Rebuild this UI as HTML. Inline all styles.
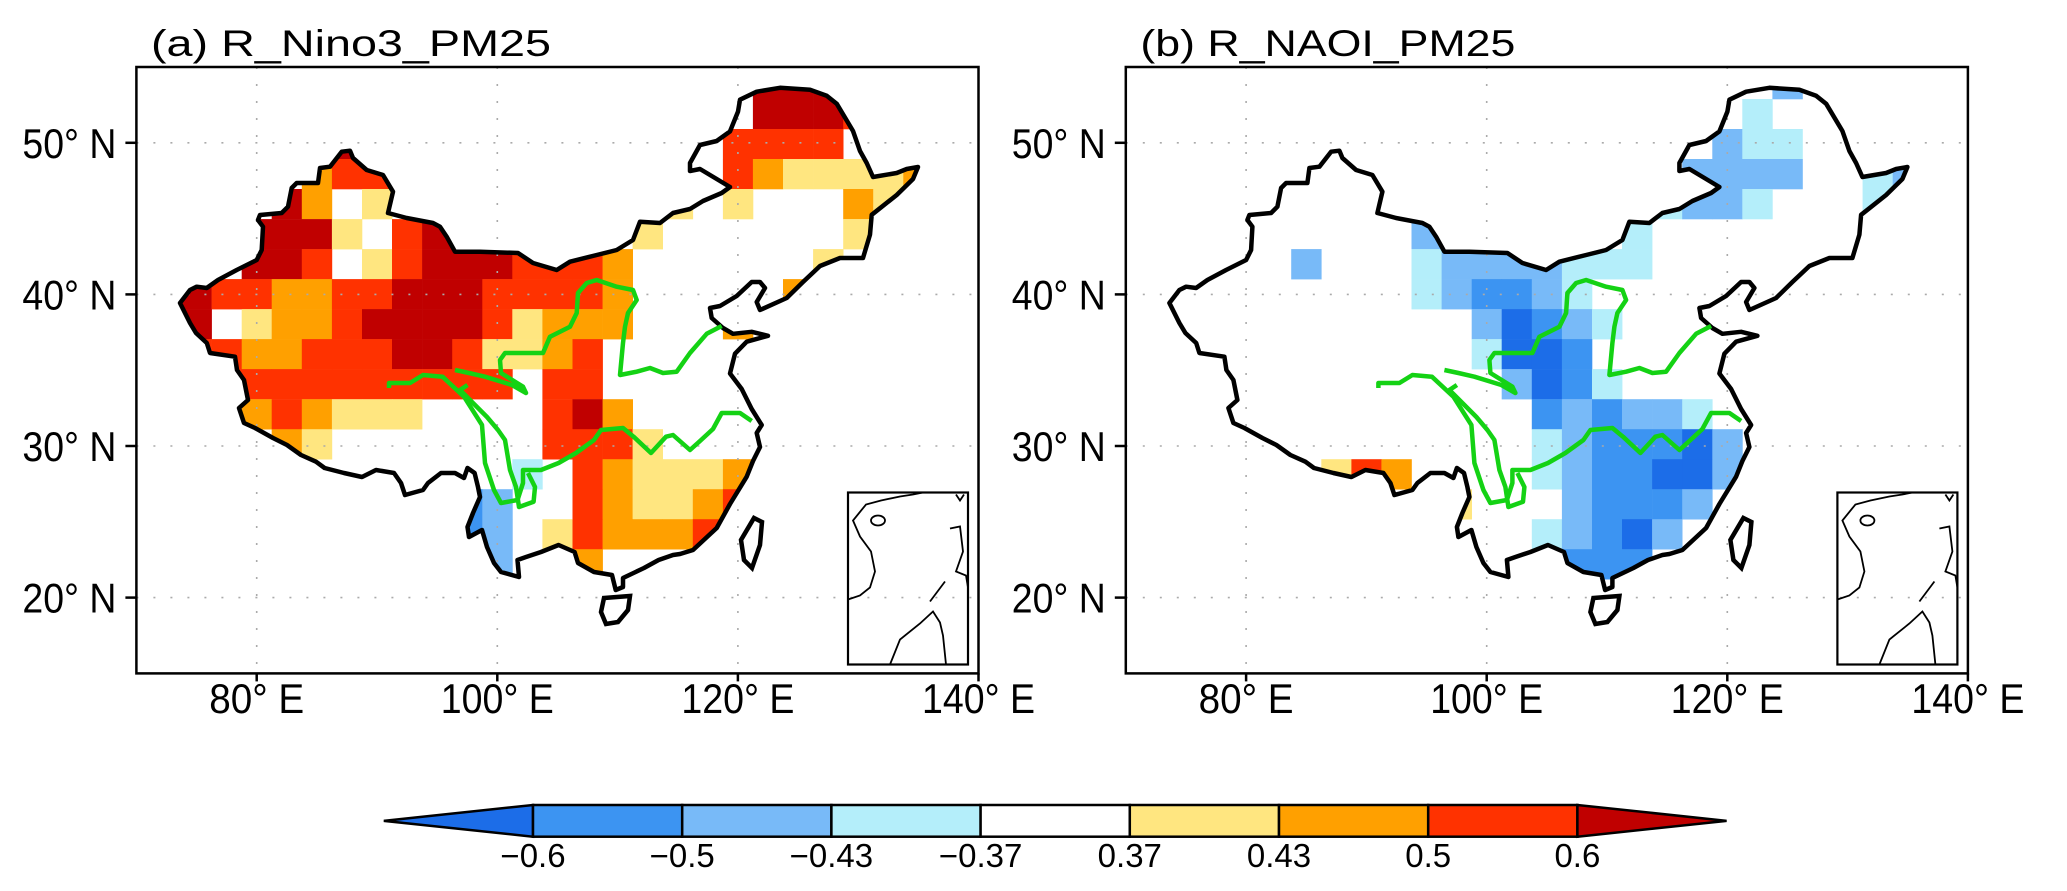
<!DOCTYPE html>
<html><head><meta charset="utf-8"><style>
html,body{margin:0;padding:0;background:#fff;}
svg{display:block;font-family:"Liberation Sans",sans-serif;}
</style></head><body>
<svg id="fig" width="2067" height="891" viewBox="0 0 2067 891" xmlns="http://www.w3.org/2000/svg"></svg>
<script>
// ---- data ----
const levelBounds = ["-0.6","-0.5","-0.43","-0.37","0.37","0.43","0.5","0.6"];
const levelColors = {"-4":"#1c6de8","-3":"#3c94f2","-2":"#78baf8","-1":"#b4eefa","0":"#ffffff","1":"#ffe680","2":"#ffa000","3":"#ff3200","4":"#c00000"};
const barColors = ["#1c6de8","#3c94f2","#78baf8","#b4eefa","#ffffff","#ffe680","#ffa000","#ff3200","#c00000"];
const lonTicks = [80,100,120,140];
const latTicks = [20,30,40,50];
// cells: [row, col, level]; col lon west = 68.75+2.5*col, row lat top = 54.87-1.98*row
const cellsA = [
[0,21,4],[0,22,4],[0,23,4],
[1,21,4],[1,22,4],[1,23,4],[1,24,3],
[2,7,4],[2,20,3],[2,21,3],[2,22,3],[2,23,3],[2,25,2],
[3,6,2],[3,7,3],[3,8,3],[3,20,3],[3,21,2],[3,22,1],[3,23,1],[3,24,1],[3,25,1],[3,26,2],[3,27,1],
[4,5,4],[4,6,2],[4,8,1],[4,18,1],[4,20,1],[4,24,2],[4,25,1],
[5,4,4],[5,5,4],[5,6,4],[5,7,1],[5,9,3],[5,10,4],[5,11,4],[5,17,1],[5,24,1],
[6,4,4],[6,5,4],[6,6,3],[6,8,1],[6,9,3],[6,10,4],[6,11,4],[6,12,4],[6,13,3],[6,14,3],[6,15,3],[6,16,2],[6,23,1],
[7,2,4],[7,3,3],[7,4,3],[7,5,2],[7,6,2],[7,7,3],[7,8,3],[7,9,4],[7,10,4],[7,11,4],[7,12,3],[7,13,3],[7,14,3],[7,15,3],[7,16,2],[7,22,2],
[8,2,4],[8,4,1],[8,5,2],[8,6,2],[8,7,3],[8,8,4],[8,9,4],[8,10,4],[8,11,4],[8,12,3],[8,13,1],[8,14,2],[8,15,2],[8,16,2],[8,20,2],
[9,2,3],[9,3,3],[9,4,2],[9,5,2],[9,6,3],[9,7,3],[9,8,3],[9,9,4],[9,10,4],[9,11,3],[9,12,1],[9,13,1],[9,14,2],[9,15,3],
[10,3,3],[10,4,3],[10,5,3],[10,6,3],[10,7,3],[10,8,3],[10,9,3],[10,10,3],[10,11,3],[10,12,3],[10,14,3],[10,15,3],
[11,4,2],[11,5,3],[11,6,2],[11,7,1],[11,8,1],[11,9,1],[11,14,3],[11,15,4],[11,16,2],
[12,5,2],[12,6,1],[12,14,3],[12,15,3],[12,16,3],[12,17,1],
[13,13,-1],[13,15,3],[13,16,2],[13,17,1],[13,18,1],[13,19,1],[13,20,2],
[14,11,-3],[14,12,-2],[14,15,3],[14,16,2],[14,17,1],[14,18,1],[14,19,2],[14,20,3],
[15,11,-3],[15,12,-2],[15,14,1],[15,15,3],[15,16,2],[15,17,2],[15,18,2],[15,19,3],
[16,12,-2],[16,15,2]
];
const cellsB = [
[0,22,-2],[1,21,-1],
[2,20,-2],[2,21,-1],[2,22,-1],
[3,19,-2],[3,20,-2],[3,21,-2],[3,22,-2],[3,25,-1],[3,26,-2],
[4,18,-1],[4,19,-2],[4,20,-2],[4,21,-1],[4,25,-1],
[5,10,-2],[5,17,-1],
[6,6,-2],[6,10,-1],[6,11,-2],[6,12,-2],[6,13,-2],[6,14,-2],[6,15,-1],[6,16,-1],[6,17,-1],
[7,10,-1],[7,11,-2],[7,12,-3],[7,13,-3],[7,14,-2],[7,15,-1],
[8,12,-2],[8,13,-4],[8,14,-3],[8,15,-2],[8,16,-1],
[9,12,-1],[9,13,-4],[9,14,-4],[9,15,-3],
[10,13,-2],[10,14,-4],[10,15,-3],[10,16,-1],
[11,14,-3],[11,15,-2],[11,16,-3],[11,17,-2],[11,18,-2],[11,19,-1],
[12,14,-1],[12,15,-2],[12,16,-3],[12,17,-3],[12,18,-3],[12,19,-4],[12,20,-2],
[13,7,1],[13,8,3],[13,9,2],[13,14,-1],[13,15,-2],[13,16,-3],[13,17,-3],[13,18,-4],[13,19,-4],[13,20,-2],
[14,11,1],[14,15,-2],[14,16,-3],[14,17,-3],[14,18,-3],[14,19,-2],
[15,14,-1],[15,15,-2],[15,16,-3],[15,17,-4],[15,18,-2],
[16,15,-3],[16,16,-3],[16,17,-3]
];
// ---- geometry (pixel outlines relative to panel a) ----
const china = [[341.7,151.7],[350,150.7],[353,158],[366.7,170],[383,175],[393,191.7],[388,213],[406.7,218],[433,223],[440,226.7],[446.7,236.7],[455,251.7],[480,251.7],[518,253],[533,263],[556.7,270],[570,261.7],[596.7,255],[616.7,250],[633,240],[640,221.7],[660,223],[673,213],[690,209],[703,201],[721.7,193],[730,187],[716.7,179],[700,169],[690,171],[690,163],[700,145],[716.7,141],[730,131.4],[738,111.6],[740,99.7],[756.7,91.7],[780,87.8],[810,89.8],[826.7,95.7],[836.7,103.7],[853,131],[860,151],[866.7,163],[873,177],[896.7,173],[906.7,169],[918,167],[913,179],[896.7,195],[871.7,214.8],[870,234.6],[863,258],[840,258],[820,266],[803,282],[786.7,298],[760,310],[756.7,302],[765,288],[760,282],[751.7,282],[736.7,296],[720,306],[710,308],[711.7,318],[723,328],[733,333.8],[751.7,331.8],[768,335.8],[746.7,341.7],[735,353.7],[730,373.5],[741.7,389],[751.7,409],[761.7,425],[756.7,433],[760,447],[753,461],[746.7,476.7],[730,504],[716.7,528],[693,550],[680,554],[673,555],[658.6,560],[644,568],[623,578],[623,587],[615.7,590],[612,575],[594,572],[578,563],[574.6,552],[558.6,545],[541,552],[526,557],[517.5,560],[519,577],[501,572],[494,563],[487,547],[482,530],[469,537],[467.5,527],[473,513],[480,497],[478,487],[474.6,473],[467.5,468],[464,478],[455,473],[441,473],[428,483],[423,490],[405,495],[401,483],[394,473],[376,470],[362,477],[344,473],[324.6,468],[316,461.7],[301,455],[287,445],[273,438],[255,428],[244,423],[239,408],[248,400],[244,380],[237,370],[235,356.7],[210,353],[206.8,343],[196,333],[190,323],[185,313],[180,303],[190,290],[196.7,286.7],[206.7,288],[218,280],[236.7,270],[256.7,260],[261.7,250],[263,226.7],[258,220],[260,215],[281.7,213],[288,206.7],[291.7,188],[296.7,183],[318,183],[320,168],[330,166.7]];
const hainan = "M604,598 L630,596 L628,610 L618,622 L606,624 L601,612 Z";
const taiwan = "M754,518 L762,522 L760,545 L752,568 L744,560 L741,540 Z";
const yellowRiver = [[455,370],[469,373],[485,376.7],[512,385],[526,393],[523,386.7],[501,373],[500,360],[505,353],[519,353],[537,353],[543,353],[550,336.7],[570,326.7],[576.7,313],[578,293],[586.7,283],[596.7,280],[616.7,286.7],[633,290],[636.7,300],[628,313],[625,326.7],[623,343],[620,375],[636.7,371.7],[650,368],[663,373],[676.7,371.7],[690,353],[706.7,333.8],[721.7,326]];
const yangtze = [[389,388],[389,383],[410,383],[423,375],[442.5,376.7],[464,396.7],[482,425],[485,463],[494,490],[501,503],[517.5,500],[523,483],[523,470],[541,470],[558.6,463],[576,453],[594,440],[601,430],[623,428],[633.6,436.7],[651,453],[666,436.7],[673,435],[690,450],[700,441],[713,429],[721.7,413],[740,413],[751.7,421]];
const jinsha = [[467.5,385],[460,390],[473,403],[487,417],[498,430],[505,440],[510,470],[516,487],[519,507],[533.6,501.7],[535,487],[528,473]];

const NS="http://www.w3.org/2000/svg";
const svg=document.getElementById('fig');
function mk(tag,attrs,parent){const e=document.createElementNS(NS,tag);for(const k in attrs)e.setAttribute(k,attrs[k]);(parent||svg).appendChild(e);return e;}
const X0=136.4, PXLON=12.03, Y0=67, PXLAT=15.16;
function xs(lon,off){return off+X0+(lon-70)*PXLON;}
function ys(lat){return Y0+(55-lat)*PXLAT;}
function cellLon(c){return 68.75+2.5*c;}
function cellLat(r){return 54.87-1.98*r;}
function pts(a){return a.map(p=>p[0].toFixed(1)+','+p[1].toFixed(1)).join(' ');}

function panel(off,cells,title,key){
  const g=mk('g',{transform:'translate('+off+',0)'});
  
  
  const defs=mk('defs',{},g);
  const cp=mk('clipPath',{id:'clip-'+key},defs);
  mk('polygon',{points:pts(china)},cp);
  mk('path',{d:hainan},cp);
  const cg=mk('g',{'clip-path':'url(#clip-'+key+')'},g);
  
  
  cells.forEach(cl=>{
    const x=xs(cellLon(cl[1]),0), y=ys(cellLat(cl[0]));
    const w=xs(cellLon(cl[1])+2.5,0)-x, h=ys(cellLat(cl[0])-1.98)-y;
    const r=mk('rect',{x:x.toFixed(1),y:y.toFixed(1),width:(w+0.3).toFixed(1),height:(h+0.3).toFixed(1),fill:levelColors[String(cl[2])]},cg);
    
    
  });
  const gg=mk('g',{stroke:'#aaa','stroke-width':1.6,'stroke-dasharray':'2 15'},g);
  
  
  lonTicks.slice(0,3).forEach(l=>mk('line',{x1:xs(l,0),x2:xs(l,0),y1:Y0,y2:ys(15)},gg));
  latTicks.forEach(l=>mk('line',{x1:X0,x2:xs(140,0),y1:ys(l),y2:ys(l)},gg));
  const ol=mk('polygon',{points:pts(china),fill:'none',stroke:'#000','stroke-width':4.5,'stroke-linejoin':'round'},g);
  
  
  const hn=mk('path',{d:hainan,fill:'none',stroke:'#000','stroke-width':4.5},g);
  
  
  const tw=mk('path',{d:taiwan,fill:'none',stroke:'#000','stroke-width':4.5},g);
  
  
  [[yellowRiver,'yellow-river'],[yangtze,'yangtze-river'],[jinsha,'jinsha-river']].forEach(rv=>{
    const p=mk('polyline',{points:pts(rv[0]),fill:'none',stroke:'#14d214','stroke-width':4.5,'stroke-linejoin':'round'},g);
    
    
  });
  const ig=mk('g',{transform:'translate(848,492.5)',fill:'none',stroke:'#000','stroke-width':1.8},g);
  
  
  mk('rect',{x:0,y:0,width:120,height:172,'stroke-width':2.2},ig);
  mk('path',{d:'M0,107 L12,103 L22,95 L27,79 L23,59 L12,44 L5,28 L18,12 L33,8 L52,4 L65,2 L75,0'},ig);
  mk('ellipse',{cx:30,cy:28,rx:7,ry:5},ig);
  mk('path',{d:'M42,172 L52,147 L72,131 L85,119 L92,130 L95,143 L98,172'},ig);
  mk('path',{d:'M102,36 L112,34 L115,59 L108,79 L118,83 L120,95'},ig);
  mk('path',{d:'M82,109 L97,89'},ig);
  mk('path',{d:'M108,2 L112,8 L116,2'},ig);
  const fr=mk('rect',{x:X0,y:Y0,width:xs(140,0)-X0,height:ys(15)-Y0,fill:'none',stroke:'#000','stroke-width':2.5},g);
  
  
  latTicks.forEach(l=>{
    mk('line',{x1:X0-11,x2:X0,y1:ys(l),y2:ys(l),stroke:'#000','stroke-width':2.5},g);
    const t=mk('text',{x:X0-20,y:ys(l)+15,'font-size':42,'text-anchor':'end',textLength:94,lengthAdjust:'spacingAndGlyphs'},g);
    t.textContent=l+'° N';
    
    
  });
  lonTicks.forEach(l=>{
    mk('line',{x1:xs(l,0),x2:xs(l,0),y1:ys(15),y2:ys(15)+8,stroke:'#000','stroke-width':2.5},g);
    const t=mk('text',{x:xs(l,0),y:713,'font-size':42,'text-anchor':'middle',textLength:l>=100?113:95,lengthAdjust:'spacingAndGlyphs'},g);
    t.textContent=l+'° E';
    
    
  });
  const tt=mk('text',{x:151,y:56,'font-size':37,textLength:key==='a'?400:375,lengthAdjust:'spacingAndGlyphs'},g);
  tt.textContent=title;
  
  
}
panel(0,cellsA,'(a) R_Nino3_PM25','a');
panel(989.4,cellsB,'(b) R_NAOI_PM25','b');

// ---- colorbar ----
const cb=mk('g',{});


const CBX=533, CBW=149.2, CBY=805, CBH=31.7;
const nBox=levelBounds.length-1;
const lt=mk('polygon',{points:(CBX)+','+CBY+' '+CBX+','+(CBY+CBH)+' '+(CBX-CBW)+','+(CBY+CBH/2),fill:barColors[0],stroke:'#000','stroke-width':2.5},cb);


for(let i=0;i<nBox;i++){
  const r=mk('rect',{x:CBX+i*CBW,y:CBY,width:CBW,height:CBH,fill:barColors[i+1],stroke:'#000','stroke-width':2.5},cb);
  
  
}
const xe=CBX+nBox*CBW;
const rt=mk('polygon',{points:xe+','+CBY+' '+xe+','+(CBY+CBH)+' '+(xe+CBW)+','+(CBY+CBH/2),fill:barColors[8],stroke:'#000','stroke-width':2.5},cb);


levelBounds.forEach((b,i)=>{
  const t=mk('text',{x:CBX+i*CBW,y:867,'font-size':33,'text-anchor':'middle'},cb);
  t.textContent=b.replace('-','\u2212');
  
  
});
</script>
</body></html>
